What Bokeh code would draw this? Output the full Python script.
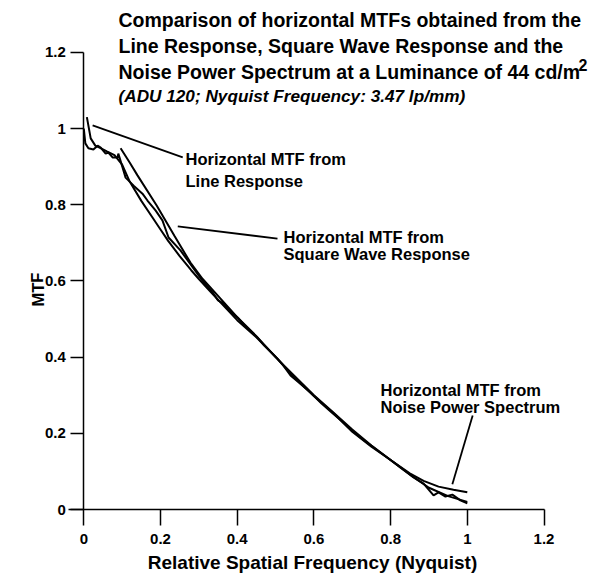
from bokeh.plotting import figure
from bokeh.models import Range1d, Label, FixedTicker, NumeralTickFormatter, ColumnDataSource
from bokeh.embed import file_html
from bokeh.resources import INLINE

# ---------------- data ----------------
lr_x = [0.0, 0.004, 0.012, 0.025, 0.036, 0.044, 0.057, 0.064, 0.075, 0.088, 0.090, 0.101, 0.109,
        0.130, 0.153, 0.166, 0.187, 0.205, 0.221, 0.252, 0.27, 0.296, 0.31, 0.338, 0.35, 0.364,
        0.38, 0.401, 0.42, 0.453, 0.47, 0.505, 0.52, 0.539, 0.56, 0.591, 0.62, 0.645, 0.670,
        0.70, 0.721, 0.75, 0.792, 0.826, 0.860, 0.886, 0.912, 0.925, 0.943, 0.961, 0.982, 1.0]
lr_y = [1.0, 0.961, 0.948, 0.945, 0.955, 0.950, 0.934, 0.937, 0.924, 0.924, 0.934, 0.898, 0.871,
        0.850, 0.829, 0.811, 0.785, 0.759, 0.714, 0.680, 0.655, 0.619, 0.600, 0.567, 0.549, 0.541,
        0.522, 0.504, 0.483, 0.451, 0.431, 0.396, 0.378, 0.352, 0.334, 0.307, 0.278, 0.256, 0.234,
        0.207, 0.189, 0.167, 0.136, 0.110, 0.084, 0.068, 0.037, 0.045, 0.034, 0.039, 0.024, 0.016]

sw_x = [0.096, 0.12, 0.14, 0.19, 0.237, 0.278, 0.31, 0.34, 0.4, 0.45, 0.5, 0.55, 0.6, 0.65,
        0.7, 0.75, 0.8, 0.86, 0.9, 0.95, 1.0]
sw_y = [0.948, 0.91, 0.877, 0.798, 0.717, 0.648, 0.605, 0.572, 0.505, 0.455, 0.40, 0.35, 0.30,
        0.255, 0.21, 0.168, 0.13, 0.085, 0.057, 0.035, 0.02]

nps_x = [0.008, 0.018, 0.03, 0.045, 0.06, 0.08, 0.1, 0.12, 0.15, 0.18, 0.2, 0.22, 0.25, 0.28,
         0.3, 0.33, 0.36, 0.4, 0.43, 0.45, 0.5, 0.55, 0.6, 0.65, 0.7, 0.75, 0.8, 0.85, 0.886,
         0.925, 0.964, 1.0]
nps_y = [1.03, 0.974, 0.955, 0.948, 0.94, 0.93, 0.905, 0.86, 0.81, 0.765, 0.735, 0.705, 0.665,
         0.628, 0.605, 0.572, 0.540, 0.497, 0.47, 0.452, 0.401, 0.345, 0.298, 0.254, 0.204,
         0.165, 0.13, 0.095, 0.075, 0.06, 0.052, 0.045]

tick_values = [0, 0.2, 0.4, 0.6, 0.8, 1.0, 1.2]

title_lines = ["Comparison of horizontal MTFs obtained from the",
               "Line Response, Square Wave Response and the",
               "Noise Power Spectrum at a Luminance of 44 cd/m"]
title_sup = "2"
subtitle = "(ADU 120; Nyquist Frequency: 3.47 lp/mm)"
x_title = "Relative Spatial Frequency (Nyquist)"
y_title = "MTF"

ann_texts = [["Horizontal MTF from", "Line Response"],
             ["Horizontal MTF from", "Square Wave Response"],
             ["Horizontal MTF from", "Noise Power Spectrum"]]
# leader lines (annotation positions, data units)
lead_x0 = [0.023, 0.245, 1.014]
lead_y0 = [1.008, 0.743, 0.247]
lead_x1 = [0.258, 0.505, 0.961]
lead_y1 = [0.924, 0.711, 0.066]

FONT = "Liberation Sans"

# pixel <-> data mapping of the reference
X0, XS = 83.3, 383.5
Y0, YS = 509.0, 381.0
W, H = 608, 578

p = figure(width=W, height=H, output_backend="svg", toolbar_location=None,
           x_range=Range1d(-X0 / XS, (W - X0) / XS),
           y_range=Range1d(-(H - Y0) / YS, Y0 / YS),
           min_border=0)
p.outline_line_color = None
p.xgrid.visible = False
p.ygrid.visible = False
p.background_fill_color = "white"
p.border_fill_color = "white"

p.xaxis.fixed_location = 0
p.yaxis.fixed_location = 0
p.xaxis.bounds = (-0.04, 1.2)
p.yaxis.bounds = (0, 1.2)
for ax in (p.xaxis[0], p.yaxis[0]):
    ax.ticker = FixedTicker(ticks=tick_values)
    ax.formatter = NumeralTickFormatter(format="0.[0]")
    ax.axis_line_width = 1.5
    ax.axis_line_color = "black"
    ax.major_tick_line_width = 1.5
    ax.major_tick_line_color = "black"
    ax.minor_tick_line_color = None
    ax.major_tick_in = 0
    ax.major_label_text_font = FONT
    ax.major_label_text_font_style = "bold"
    ax.major_label_text_font_size = "15px"
    ax.major_label_text_color = "black"
p.yaxis.major_tick_out = 13
p.yaxis.major_label_standoff = 5
p.xaxis.major_tick_out = 16
p.xaxis.major_label_standoff = 8

lw = 2
p.line(lr_x, lr_y, line_color="black", line_width=lw)
p.line(sw_x, sw_y, line_color="black", line_width=lw)
p.line(nps_x, nps_y, line_color="black", line_width=lw)

src = ColumnDataSource(dict(x0=lead_x0, y0=lead_y0, x1=lead_x1, y1=lead_y1))
p.segment("x0", "y0", "x1", "y1", source=src, line_color="black", line_width=1.8)


def px_x(px):
    return (px - X0) / XS


def px_y(py):
    return (Y0 - py) / YS


def add_label(text, px, py, size, style="bold", align="left", angle=0):
    p.add_layout(Label(x=px_x(px), y=px_y(py), text=text, text_font=FONT,
                       text_font_style=style, text_font_size=size, text_color="black",
                       text_align=align, text_baseline="middle", angle=angle))


# title (vertical centres of the lines)
for t, c in zip(title_lines, [19.5, 45, 71]):
    add_label(t, 118, c, "19.5px")
add_label(title_sup, 578, 64, "16px")
add_label(subtitle, 118, 95, "17.2px", style="bold italic")

# annotation texts
ann_pos = [(185, 158, 180), (283, 236, 253), (380, 389, 406)]
for (l1, l2), (x, c1, c2) in zip(ann_texts, ann_pos):
    add_label(l1, x, c1, "16.5px")
    add_label(l2, x, c2, "16.5px")

# axis titles
add_label(y_title, 37, 289, "16.5px", align="center", angle=1.5708)
add_label(x_title, 312, 562, "19px", align="center")

open("out.html", "w").write(file_html(p, INLINE))
